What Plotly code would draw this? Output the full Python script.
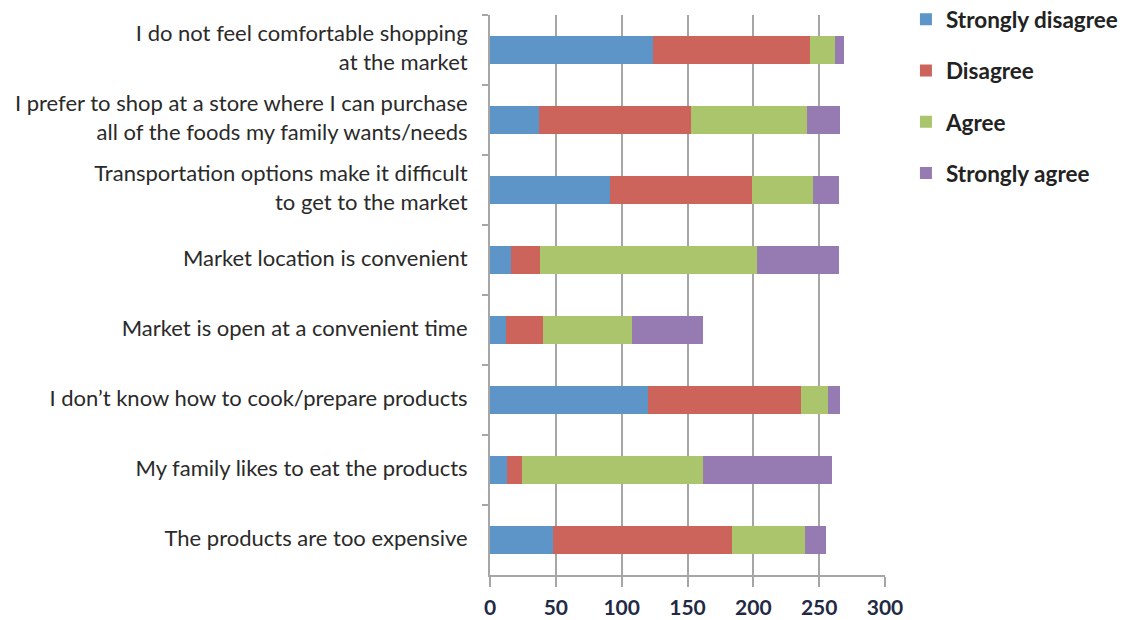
import plotly.graph_objects as go

categories = [
    "I do not feel comfortable shopping<br>at the market",
    "I prefer to shop at a store where I can purchase<br>all of the foods my family wants/needs",
    "Transportation options make it difficult<br>to get to the market",
    "Market location is convenient",
    "Market is open at a convenient time",
    "I don\u2019t know how to cook/prepare products",
    "My family likes to eat the products",
    "The products are too expensive",
]
strongly_disagree = [124, 37, 91, 16, 12, 120, 13, 48]
disagree = [119, 116, 108, 22, 28, 116, 11, 136]
agree = [19, 88, 46, 165, 68, 21, 138, 55]
strongly_agree = [7, 25, 20, 62, 54, 9, 98, 16]

series = [
    ("Strongly disagree", strongly_disagree, "#5E95C8"),
    ("Disagree", disagree, "#CC645C"),
    ("Agree", agree, "#AAC56C"),
    ("Strongly agree", strongly_agree, "#957BB2"),
]

x_ticks = [0, 50, 100, 150, 200, 250, 300]

fig = go.Figure()
for name, vals, color in series:
    fig.add_trace(go.Bar(
        y=categories, x=vals, name=name, orientation="h",
        marker=dict(color=color, line=dict(width=0)),
        legendgroup=name,
    ))

fig.update_layout(
    barmode="stack",
    bargap=0.61,
    width=1127, height=620,
    margin=dict(l=490, r=242, t=15, b=45, autoexpand=False),
    plot_bgcolor="white", paper_bgcolor="white",
    font=dict(family="Lato", size=22, color="#2a2a2a"),
    legend=dict(
        x=1.053, xanchor="left", y=1.03, yanchor="top",
        font=dict(family="Lato", size=22.5, color="#222", weight="bold"),
        tracegroupgap=19,
        traceorder="grouped",
    ),
    xaxis=dict(
        range=[0, 300], tickvals=x_ticks, ticktext=[str(v) for v in x_ticks],
        showgrid=True, gridcolor="#a6a6a6", gridwidth=2,
        showline=True, linecolor="#a6a6a6", linewidth=2,
        ticks="outside", ticklen=10, tickcolor="#a6a6a6", tickwidth=2,
        ticklabelstandoff=3,
        tickfont=dict(family="Lato", size=21, color="#1f2a44", weight="bold"),
        zeroline=False,
    ),
    yaxis=dict(
        autorange="reversed",
        showline=True, linecolor="#a6a6a6", linewidth=2,
        ticks="outside", ticklen=6, tickcolor="#a6a6a6", tickwidth=2,
        tickson="boundaries",
        ticklabelstandoff=16,
        ticklabelshift=2,
        tickfont=dict(family="Lato", size=22, color="#2a2a2a"),
        showgrid=False,
    ),
)

fig.write_html("out.html")
